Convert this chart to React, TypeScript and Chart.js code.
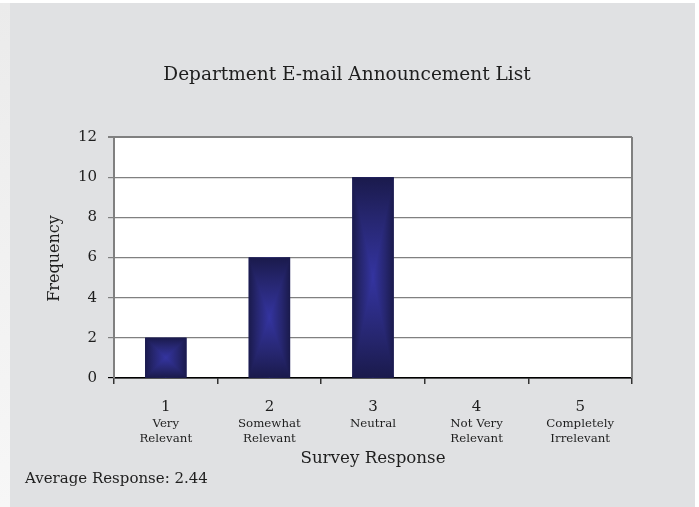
import React, { useEffect, useRef } from "react";
import { Chart, registerables } from "chart.js";

Chart.register(...registerables);

const chartTitle = "Department E-mail Announcement List";
const categories = ["1", "2", "3", "4", "5"];
const subLabels = [
  ["Very", "Relevant"],
  ["Somewhat", "Relevant"],
  ["Neutral"],
  ["Not Very", "Relevant"],
  ["Completely", "Irrelevant"],
];
const frequencies = [2, 6, 10, 0, 0];
const yMin = 0;
const yMax = 12;
const yStep = 2;
const yAxisTitle = "Frequency";
const xAxisTitle = "Survey Response";
const footnote = "Average Response: 2.44";

const FONT = '"DejaVu Serif", serif';
const TEXT = "#1e1e1e";
const EDGE = "#1a1a4c";
const MID = "#26266f";
const CENTER = "#3434a0";

const decorPlugin = {
  id: "decor",
  beforeDraw(chart: any) {
    const { ctx, chartArea } = chart;
    ctx.save();
    ctx.fillStyle = "#ffffff";
    ctx.fillRect(chartArea.left, chartArea.top, chartArea.right - chartArea.left, chartArea.bottom - chartArea.top);
    ctx.restore();
  },
  afterDatasetsDraw(chart: any) {
    const { ctx } = chart;
    const meta = chart.getDatasetMeta(0);
    ctx.save();
    meta.data.forEach((el: any) => {
      const { x, y, base, width } = el.getProps(["x", "y", "base", "width"], true);
      const l = x - width / 2;
      const r = x + width / 2;
      const t = Math.min(y, base);
      const b = Math.max(y, base);
      if (b - t < 0.5) return;
      const cx = x;
      const cy = (t + b) / 2;
      const grad = (x0: number, y0: number, x1: number, y1: number) => {
        const g = ctx.createLinearGradient(x0, y0, x1, y1);
        g.addColorStop(0, EDGE);
        g.addColorStop(0.4, MID);
        g.addColorStop(1, CENTER);
        return g;
      };
      ctx.fillStyle = grad(l, 0, cx, 0);
      ctx.fillRect(l, t, cx - l + 0.5, b - t);
      ctx.fillStyle = grad(r, 0, cx, 0);
      ctx.fillRect(cx - 0.5, t, r - cx + 0.5, b - t);
      ctx.fillStyle = grad(0, t, 0, cy);
      ctx.beginPath();
      ctx.moveTo(l, t);
      ctx.lineTo(r, t);
      ctx.lineTo(cx, cy);
      ctx.closePath();
      ctx.fill();
      ctx.fillStyle = grad(0, b, 0, cy);
      ctx.beginPath();
      ctx.moveTo(l, b);
      ctx.lineTo(r, b);
      ctx.lineTo(cx, cy);
      ctx.closePath();
      ctx.fill();
    });
    ctx.restore();
  },
  afterDraw(chart: any) {
    const { ctx, chartArea } = chart;
    const xScale = chart.scales.x;
    ctx.save();
    ctx.strokeStyle = "#808080";
    ctx.lineWidth = 2;
    ctx.beginPath();
    ctx.moveTo(chartArea.right, chartArea.top);
    ctx.lineTo(chartArea.right, chartArea.bottom);
    ctx.stroke();

    ctx.fillStyle = TEXT;
    ctx.textAlign = "center";
    ctx.textBaseline = "middle";
    ctx.font = `18.5px ${FONT}`;
    ctx.fillText(chartTitle, 337, 72);
    categories.forEach((c, i) => {
      const px = xScale.getPixelForValue(i);
      ctx.font = `15px ${FONT}`;
      ctx.fillText(c, px, 404);
      ctx.font = `11.8px ${FONT}`;
      subLabels[i].forEach((s, j) => {
        ctx.fillText(s, px, 421 + j * 15);
      });
    });
    ctx.font = `16.7px ${FONT}`;
    ctx.fillText(xAxisTitle, (chartArea.left + chartArea.right) / 2, 456);
    ctx.save();
    ctx.font = `16px ${FONT}`;
    ctx.translate(45, (chartArea.top + chartArea.bottom) / 2 + 1);
    ctx.rotate(-Math.PI / 2);
    ctx.fillText(yAxisTitle, 0, 0);
    ctx.restore();
    ctx.textAlign = "left";
    ctx.textBaseline = "alphabetic";
    ctx.font = `15px ${FONT}`;
    ctx.fillText(footnote, 15, 480);
    ctx.restore();
  },
};

export default function App() {
  const ref = useRef<HTMLCanvasElement | null>(null);
  useEffect(() => {
    if (!ref.current) return;
    const chart = new Chart(ref.current, {
      type: "bar",
      data: {
        labels: categories,
        datasets: [
          {
            data: frequencies,
            backgroundColor: MID,
            borderWidth: 0,
            barPercentage: 0.8,
            categoryPercentage: 0.5,
          },
        ],
      },
      options: {
        animation: false,
        responsive: false,
        maintainAspectRatio: false,
        devicePixelRatio: 1,
        layout: { padding: { left: 0, right: 63, top: 134, bottom: 79 } },
        plugins: {
          legend: { display: false },
          title: { display: false },
          tooltip: { enabled: false },
        },
        scales: {
          x: {
            offset: true,
            ticks: { display: false },
            grid: {
              offset: true,
              drawOnChartArea: false,
              drawTicks: true,
              tickLength: 6,
              color: "#333333",
              lineWidth: 1.5,
            },
            border: { display: true, color: "#000000", width: 1.5 },
            afterFit(scale: any) {
              scale.height = 50;
            },
          },
          y: {
            min: yMin,
            max: yMax,
            ticks: {
              stepSize: yStep,
              padding: 11,
              color: TEXT,
              font: { family: FONT, size: 15 },
            },
            grid: {
              drawTicks: true,
              tickLength: 6,
              color: (c: any) => (c.tick && c.tick.value === 0 ? "#000000" : "#808080"),
              lineWidth: (c: any) => (c.tick && c.tick.value === yMax ? 2 : 1.2),
            },
            border: { display: true, color: "#808080", width: 2 },
            afterFit(scale: any) {
              scale.width = 104;
            },
          },
        },
      },
      plugins: [decorPlugin],
    });
    return () => chart.destroy();
  }, []);

  return (
    <div style={{ position: "fixed", left: 0, top: 0, width: 699, height: 507, background: "#ffffff", overflow: "hidden" }}>
      <div
        style={{
          position: "absolute",
          left: 0,
          top: 3,
          width: 10,
          height: 504,
          background: "linear-gradient(#ebebeb, #f7f7f7)",
        }}
      />
      <canvas
        ref={ref}
        width={685}
        height={504}
        style={{ position: "absolute", left: 10, top: 3, width: 685, height: 504, background: "#e0e1e3" }}
      />
    </div>
  );
}
